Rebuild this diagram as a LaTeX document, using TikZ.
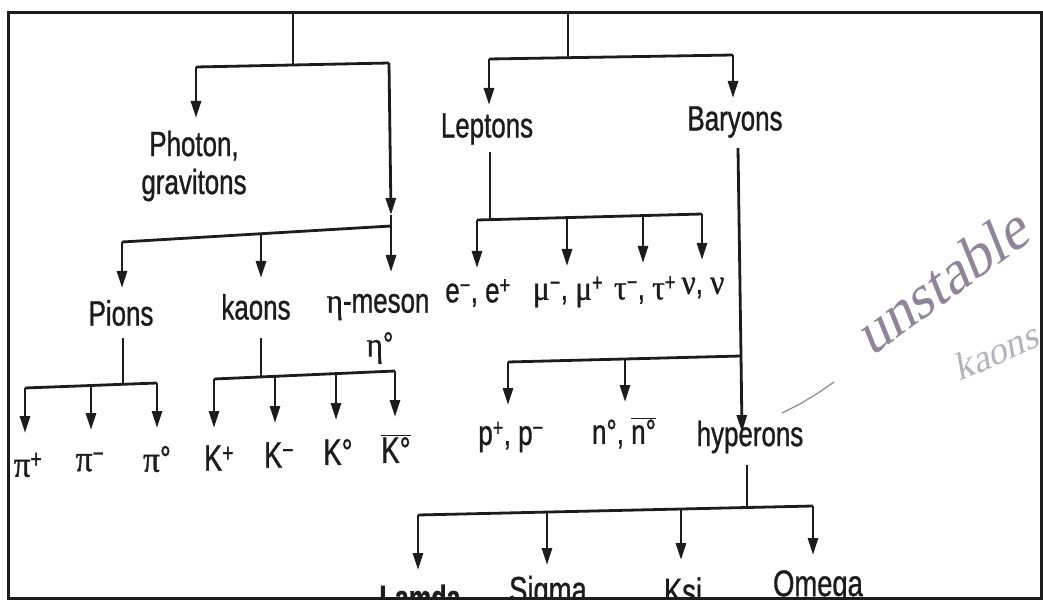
\documentclass[tikz,border=0pt]{standalone}
\usepackage{fontspec}
\setmainfont{Liberation Sans}[FakeStretch=0.74, FakeBold=0.9]
\newfontfamily\grk{Liberation Serif}[FakeStretch=0.9, FakeBold=0.9]
\newfontfamily\hand{Liberation Serif}[FakeSlant=0.25]
\usetikzlibrary{arrows.meta}
\definecolor{ink}{HTML}{1C1C1C}
\definecolor{pen}{HTML}{8E8598}
\newcommand\gk[1]{{\grk #1}}
\newcommand\ovl[1]{\ensuremath{\overline{\mbox{#1}}}}
\newcommand\upr[1]{\textsuperscript{#1}}
\tikzset{
  link/.style={line width=2.8pt, draw=ink},
  arr/.style={link, -{Triangle[length=17pt,width=10pt]}},
  lbl/.style={font=\fontsize{35}{38}\selectfont, text=ink, inner sep=0pt},
  big/.style={font=\fontsize{37}{40}\selectfont, text=ink, inner sep=0pt},
  note/.style={font=\hand\fontsize{60}{62}\selectfont, text=pen, inner sep=0pt},
}
\begin{document}
\begin{tikzpicture}[x=1pt,y=-1pt]
\path[use as bounding box] (0,0) rectangle (1043,601);
\begin{scope}
\clip (8,13) rectangle (1041,597);

% ---------- left family: photons and mesons ----------
\coordinate (s1) at (293,14);
\coordinate (b1) at (293,65);
\coordinate (b1l) at (196,67);
\coordinate (b1r) at (389,63);
\coordinate (tPh) at (196,118);
\coordinate (tMes) at (391,215);
\coordinate (b2r) at (391,226);
\coordinate (b2l) at (122,242);
\coordinate (b2m) at (261,235);
\coordinate (tPions) at (122,288);
\coordinate (tKaons) at (261,278);
\coordinate (tEta) at (391,272);

\node[lbl, align=center] (photon) at (194,166) {Photon,\\gravitons};
\node[lbl] (pions) at (121,313) {Pions};
\node[lbl] (kaons) at (256,307) {kaons};
\node[lbl] (eta) at (378,307) {\gk{η}-meson};
\node[lbl] (eta0) at (380,348) {\gk{η}°};

\draw[link] (s1) -- (b1);
\draw[link] (b1l) -- (b1r);
\draw[arr] (b1l) -- (tPh);
\draw[arr] (b1r) -- (tMes);
\draw[link] (tMes) -- (b2r);
\draw[link] (b2l) -- (b2r);
\draw[arr] (b2l) -- (tPions);
\draw[arr] (b2m) -- (tKaons);
\draw[arr] (b2r) -- (tEta);

% pions
\coordinate (p0) at (123,338);
\coordinate (p1) at (123,385);
\coordinate (pl) at (25,388);
\coordinate (pm) at (91,386);
\coordinate (pr) at (157,383);
\draw[link] (p0) -- (p1);
\draw[link] (pl) -- (pr);
\coordinate (tpi1) at (25,433);
\coordinate (tpi2) at (91,430);
\coordinate (tpi3) at (157,428);
\draw[arr] (pl) -- (tpi1);
\draw[arr] (pm) -- (tpi2);
\draw[arr] (pr) -- (tpi3);
\node[big] (pip) at (28,465) {\gk{π}\upr{+}};
\node[big] (pim) at (90,462) {\gk{π}\upr{−}};
\node[big] (pi0) at (157,459) {\gk{π}°};

% kaons
\coordinate (k0c) at (261,338);
\coordinate (k1) at (261,376);
\coordinate (kl) at (214,379);
\coordinate (km1) at (275,377);
\coordinate (km2) at (336,374);
\coordinate (kr) at (395,371);
\draw[link] (k0c) -- (k1);
\draw[link] (kl) -- (kr);
\coordinate (tk1) at (214,428);
\coordinate (tk2) at (275,423);
\coordinate (tk3) at (336,420);
\coordinate (tk4) at (395,417);
\draw[arr] (kl) -- (tk1);
\draw[arr] (km1) -- (tk2);
\draw[arr] (km2) -- (tk3);
\draw[arr] (kr) -- (tk4);
\node[big] (kp) at (219,458) {K\upr{+}};
\node[big] (kn) at (279,455) {K\upr{−}};
\node[big] (k0) at (338,452) {K°};
\node[big] (kb) at (396,449) {\ovl{K°}};

% ---------- right family: leptons and baryons ----------
\coordinate (s2) at (568,14);
\coordinate (b5) at (568,57);
\coordinate (b5l) at (489,59);
\coordinate (b5r) at (733,55);
\coordinate (tLep) at (489,105);
\coordinate (tBar) at (733,98);
\draw[link] (s2) -- (b5);
\draw[link] (b5l) -- (b5r);
\draw[arr] (b5l) -- (tLep);
\draw[arr] (b5r) -- (tBar);
\node[lbl] (lep) at (487,129) {Leptons};
\node[lbl] (bar) at (735,122) {Baryons};

% leptons
\coordinate (l0) at (490,152);
\coordinate (l1) at (490,219);
\coordinate (ll) at (477,220);
\coordinate (lm1) at (567,218);
\coordinate (lm2) at (643,216);
\coordinate (lr) at (702,214);
\draw[link] (l0) -- (l1);
\draw[link] (ll) -- (lr);
\coordinate (te) at (477,268);
\coordinate (tmu) at (567,266);
\coordinate (ttau) at (643,263);
\coordinate (tnu) at (702,260);
\draw[arr] (ll) -- (te);
\draw[arr] (lm1) -- (tmu);
\draw[arr] (lm2) -- (ttau);
\draw[arr] (lr) -- (tnu);
\node[lbl] (ee) at (478,293) {e\upr{−}, e\upr{+}};
\node[lbl] (mm) at (568,292) {\gk{μ}\upr{−}, \gk{μ}\upr{+}};
\node[lbl] (tt) at (645,290) {\gk{τ}\upr{−}, \gk{τ}\upr{+}};
\node[lbl] (nn) at (703,288) {\gk{ν}, \gk{ν}};

% baryons
\coordinate (y0) at (738,148);
\coordinate (y1) at (741,356);
\coordinate (yl) at (508,362);
\coordinate (ym) at (625,359);
\coordinate (th) at (742,432);
\draw[link] (y0) -- (y1);
\draw[arr] (y1) -- (th);
\draw[link] (yl) -- (y1);
\coordinate (tp) at (508,405);
\coordinate (tn) at (625,402);
\draw[arr] (yl) -- (tp);
\draw[arr] (ym) -- (tn);
\node[lbl] (pp) at (511,437) {p\upr{+}, p\upr{−}};
\node[lbl] (nb) at (624,433) {n°, \ovl{n°}};
\node[lbl] (hyp) at (750,437) {hyperons};

% hyperons
\coordinate (h0) at (747,465);
\coordinate (h1) at (747,508);
\coordinate (hl) at (418,515);
\coordinate (hm1) at (547,512);
\coordinate (hm2) at (681,509);
\coordinate (hr) at (813,506);
\draw[link] (h0) -- (h1);
\draw[link] (hl) -- (hr);
\coordinate (tla) at (418,570);
\coordinate (tsi) at (547,565);
\coordinate (tks) at (681,560);
\coordinate (tom) at (813,555);
\draw[arr] (hl) -- (tla);
\draw[arr] (hm1) -- (tsi);
\draw[arr] (hm2) -- (tks);
\draw[arr] (hr) -- (tom);
\node[lbl, font=\bfseries\fontsize{34}{37}\selectfont] (la) at (420,597) {Lamda};
\node[big] (si) at (548,593) {Sigma};
\node[big] (ks) at (683,591) {Ksi};
\node[big] (om) at (818,587) {Omega};

% pen annotation in the margin
\draw[pen, line width=1.2pt] (782,413) -- (800,404) -- (818,393) -- (834,382);
\node[note, rotate=36] (unst) at (940,282) {unstable};
\node[note, rotate=24, font=\hand\fontsize{38}{40}\selectfont, text=pen!65] (kn2) at (995,352) {kaons};
\end{scope}

% outer frame
\draw[line width=3pt, ink] (8,13) rectangle (1041,598);
\end{tikzpicture}
\end{document}
